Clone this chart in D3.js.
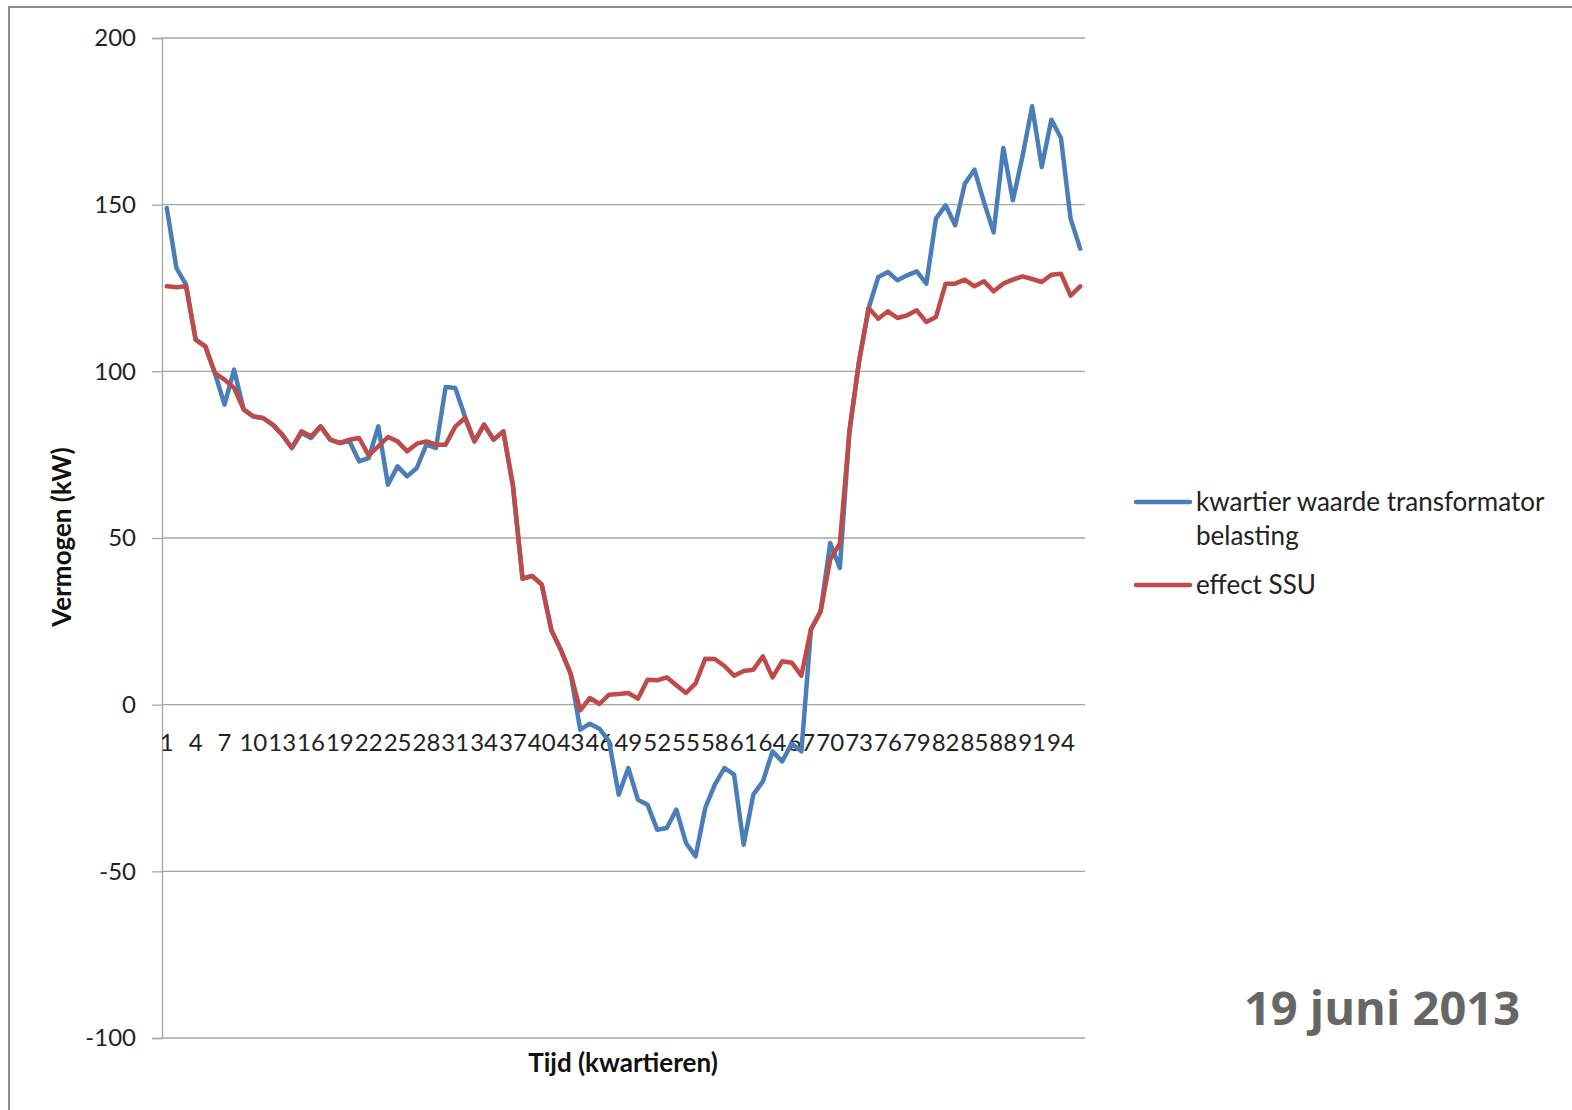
<!DOCTYPE html>
<html>
<head>
<meta charset="utf-8">
<script src="https://cdn.jsdelivr.net/npm/d3@7"></script>
<style>
  html, body { margin: 0; padding: 0; background: #fff; }
  svg { display: block; }
</style>
</head>
<body>
<script>
const categories = [1,2,3,4,5,6,7,8,9,10,11,12,13,14,15,16,17,18,19,20,21,22,23,24,25,26,27,28,29,30,31,32,33,34,35,36,37,38,39,40,41,42,43,44,45,46,47,48,49,50,51,52,53,54,55,56,57,58,59,60,61,62,63,64,65,66,67,68,69,70,71,72,73,74,75,76,77,78,79,80,81,82,83,84,85,86,87,88,89,90,91,92,93,94,95,96];
const xTickLabels = [1,4,7,10,13,16,19,22,25,28,31,34,37,40,43,46,49,52,55,58,61,64,67,70,73,76,79,82,85,88,91,94];
const yTicks = [-100,-50,0,50,100,150,200];

const transformatorBelasting = [149,131,126,109.5,107.5,99.5,90,100.5,88.5,86.5,
  86,84,81,77,81.5,80,83.5,79.5,78.5,79,
  73,74,83.5,66,71.5,68.5,71,78,77,95.3,
  95,86.5,79,84,79.5,82,65.7,37.8,38.6,36,
  22.3,16.3,9.3,-7.5,-5.7,-7.2,-11,-27,-19,-28.5,
  -30,-37.5,-37,-31.5,-41.5,-45.5,-31,-24,-19,-21,
  -42,-27,-23,-14,-17,-11.7,-14,22.5,28,48.5,
  41,82,103,119,128.3,129.8,127.3,128.8,130,126.3,
  145.8,149.8,143.8,156.3,160.5,150.7,141.7,167,151.3,164.5,
  179.5,161.3,175.5,170,145.8,136.8];

const effectSSU = [125.5,125.2,125.5,109.5,107.5,99.5,97.5,95,88.5,86.5,
  86,84,81,77,82,80.5,83.5,79.5,78.5,79.5,
  80,74.8,77.5,80.3,79,76,78.3,79,78,78,
  83.4,86,79,84,79.5,82,65.7,37.8,38.6,36,
  22.3,16.3,9.3,-1.7,2,0.2,3,3.2,3.5,1.8,
  7.5,7.3,8.2,5.8,3.5,6.4,13.8,13.7,11.6,8.7,
  10.1,10.5,14.5,8.2,13,12.6,8.7,22.7,27.9,43.6,
  48.3,82,103,119,115.8,118,116,116.8,118.3,114.8,
  116.3,126.3,126.3,127.5,125.5,127,124,126.3,127.5,128.5,
  127.7,126.8,129,129.3,122.7,125.5];

const seriesNames = ["kwartier waarde transformator belasting", "effect SSU"];
const seriesColors = ["#4a7ebb", "#be4b48"];

const W = 1572, H = 1110;
const plot = {left: 162, right: 1085, top: 38, bottom: 1038};
const font = "Lato, 'Open Sans', sans-serif";

const svg = d3.select("body").append("svg").attr("width", W).attr("height", H);
svg.append("rect").attr("width", W).attr("height", H).attr("fill", "#fff");

// slide frame
svg.append("path")
  .attr("d", `M9,${H+5} L9,7 L${W+5},7`)
  .attr("fill", "none").attr("stroke", "#8c8c8c").attr("stroke-width", 2);

const x = d3.scaleBand().domain(categories).range([plot.left, plot.right]);
const xc = d => x(d) + x.bandwidth() / 2;
const y = d3.scaleLinear().domain([-100, 200]).range([plot.bottom, plot.top]);

// gridlines
svg.append("g").selectAll("line").data(yTicks).join("line")
  .attr("x1", plot.left).attr("x2", plot.right)
  .attr("y1", d => y(d)).attr("y2", d => y(d))
  .attr("stroke", "#a6a6a6").attr("stroke-width", 1.3);

// y axis
const yAxis = d3.axisLeft(y).tickValues(yTicks).tickSize(10).tickPadding(16)
  .tickFormat(d => String(d));
const gy = svg.append("g").attr("transform", `translate(${plot.left},0)`).call(yAxis);
gy.select(".domain").attr("stroke", "#a6a6a6").attr("stroke-width", 1.3);
gy.selectAll(".tick line").attr("stroke", "#a6a6a6").attr("stroke-width", 1.3);
gy.selectAll(".tick text").attr("font-family", font).attr("font-size", 24).attr("fill", "#222");

// x axis labels at zero line
const xAxis = d3.axisBottom(x).tickValues(xTickLabels).tickSize(0).tickPadding(29);
const gx = svg.append("g").attr("transform", `translate(0,${y(0)})`).call(xAxis);
gx.select(".domain").remove();
gx.selectAll(".tick text").attr("font-family", font).attr("font-size", 24).attr("fill", "#222");

// lines
const line = d3.line().x((d, i) => xc(categories[i])).y(d => y(d));
[transformatorBelasting, effectSSU].forEach((s, k) => {
  svg.append("path").datum(s).attr("d", line)
    .attr("fill", "none").attr("stroke", seriesColors[k])
    .attr("stroke-width", 4.5).attr("stroke-linejoin", "round").attr("stroke-linecap", "round");
});

// axis titles
svg.append("text").attr("transform", `translate(71,537) rotate(-90)`)
  .attr("text-anchor", "middle").attr("font-family", font).attr("font-weight", "bold")
  .attr("font-size", 26).attr("fill", "#111").text("Vermogen (kW)");
svg.append("text").attr("x", 623).attr("y", 1072)
  .attr("text-anchor", "middle").attr("font-family", font).attr("font-weight", "bold")
  .attr("font-size", 26).attr("fill", "#111").text("Tijd (kwartieren)");

// legend
const legend = svg.append("g");
const legendY = [502, 585];
const legendLines = [["kwartier waarde transformator", "belasting"], ["effect SSU"]];
legendLines.forEach((lines, k) => {
  legend.append("line").attr("x1", 1136).attr("x2", 1190)
    .attr("y1", legendY[k]).attr("y2", legendY[k])
    .attr("stroke", seriesColors[k]).attr("stroke-width", 4.5).attr("stroke-linecap", "round");
  lines.forEach((t, j) => {
    legend.append("text").attr("x", 1196).attr("y", legendY[k] + 9 + j * 34)
      .attr("font-family", font).attr("font-size", 26).attr("fill", "#222").text(t);
  });
});

// date
svg.append("text").attr("x", 1520).attr("y", 1025).attr("text-anchor", "end")
  .attr("font-family", "'Open Sans', sans-serif").attr("font-weight", "bold")
  .attr("font-size", 47).attr("fill", "#666").text("19 juni 2013");
</script>
</body>
</html>
